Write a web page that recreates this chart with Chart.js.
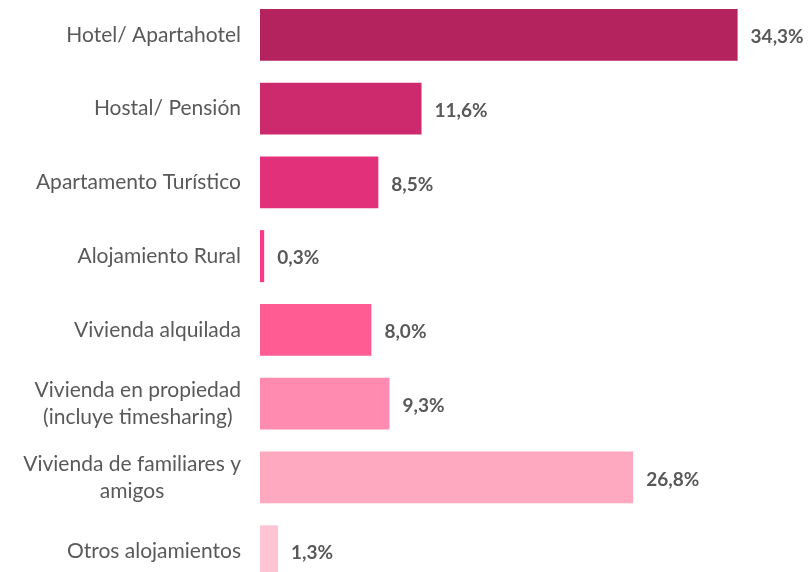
<!DOCTYPE html>
<html>
<head>
<meta charset="utf-8">
<script src="https://cdn.jsdelivr.net/npm/chart.js@4.4.1/dist/chart.umd.min.js"></script>
<style>
  html, body { margin: 0; padding: 0; background: #fff; overflow: hidden; }
  #wrap { position: absolute; left: 0; top: -2px; width: 810px; height: 590px; }
</style>
</head>
<body>
<div id="wrap"><canvas id="chart"></canvas></div>
<script>
// data
const categories = [
  ["Hotel/ Apartahotel"],
  ["Hostal/ Pensión"],
  ["Apartamento Turístico"],
  ["Alojamiento Rural"],
  ["Vivienda alquilada"],
  ["Vivienda en propiedad", "(incluye timesharing)"],
  ["Vivienda de familiares y", "amigos"],
  ["Otros alojamientos"]
];
const shares = [34.3, 11.6, 8.5, 0.3, 8.0, 9.3, 26.8, 1.3];
const barColors = ["#B5235E", "#CC2A6C", "#E2317A", "#F73B8A", "#FF5C94", "#FF8CB0", "#FFA9C0", "#FFC5D4"];

const textColor = "#595959";
const fmt = v => v.toFixed(1).replace(".", ",") + "%";

// category labels: block right-aligned, lines centred inside it
const catLabels = {
  id: "catLabels",
  afterDraw(chart) {
    const ctx = chart.ctx;
    const y = chart.scales.y;
    const right = chart.chartArea.left - 19;
    ctx.save();
    ctx.font = "21px Lato";
    ctx.fillStyle = textColor;
    ctx.textBaseline = "middle";
    ctx.textAlign = "center";
    const lineH = 27;
    categories.forEach((lines, i) => {
      const cy = y.getPixelForValue(i);
      const w = Math.max(...lines.map(l => ctx.measureText(l).width));
      const cx = right - w / 2;
      const top = cy - (lines.length - 1) * lineH / 2;
      lines.forEach((l, j) => ctx.fillText(l, cx, top + j * lineH));
    });
    ctx.restore();
  }
};

// value labels at the end of each bar
const valueLabels = {
  id: "valueLabels",
  afterDatasetsDraw(chart) {
    const ctx = chart.ctx;
    const meta = chart.getDatasetMeta(0);
    ctx.save();
    ctx.font = "bold 19px Lato";
    ctx.fillStyle = textColor;
    ctx.textBaseline = "middle";
    ctx.textAlign = "left";
    meta.data.forEach((bar, i) => {
      ctx.fillText(fmt(shares[i]), bar.x + 13, bar.y + 2);
    });
    ctx.restore();
  }
};

new Chart(document.getElementById("chart"), {
  type: "bar",
  data: {
    labels: categories,
    datasets: [{
      data: shares,
      backgroundColor: barColors,
      borderWidth: 0,
      categoryPercentage: 1,
      barPercentage: 0.705
    }]
  },
  options: {
    indexAxis: "y",
    responsive: true,
    maintainAspectRatio: false,
    animation: false,
    layout: { padding: 0 },
    plugins: { legend: { display: false }, tooltip: { enabled: false } },
    scales: {
      x: {
        min: 0,
        max: 39.5,
        display: false
      },
      y: {
        grid: { display: false },
        border: { display: false },
        ticks: { display: false },
        afterFit(scale) { scale.width = 260; }
      }
    }
  },
  plugins: [catLabels, valueLabels]
});
</script>
</body>
</html>
